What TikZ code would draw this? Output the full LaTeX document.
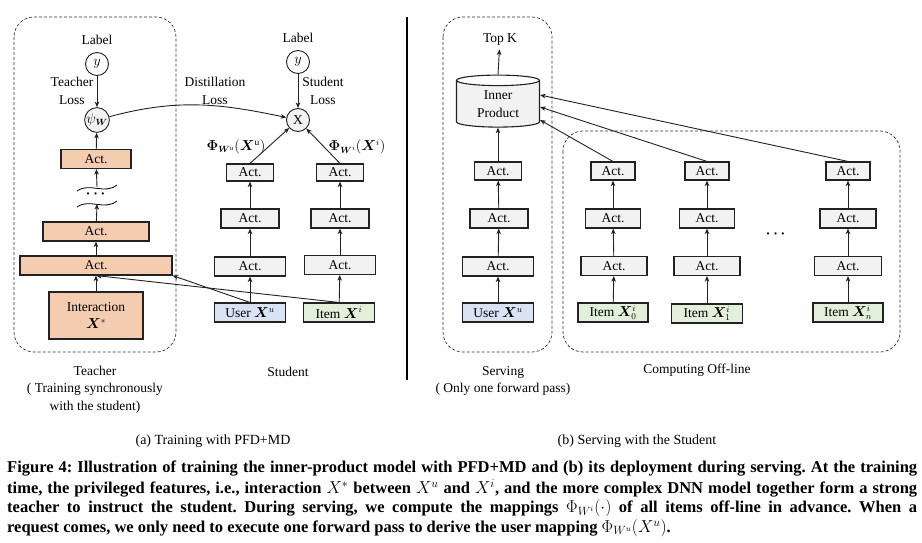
\documentclass[tikz,border=0pt]{standalone}
\usepackage{amsmath,bm}
\usepackage{fontspec}
\setmainfont{Liberation Serif}
\newfontfamily\capfont{Liberation Serif}
\usetikzlibrary{shapes.geometric,arrows.meta}
\definecolor{peach}{HTML}{F4CCB0}
\definecolor{actgray}{HTML}{F2F2F2}
\definecolor{userblue}{HTML}{DAE3F3}
\definecolor{itemgreen}{HTML}{E2EFDA}
\definecolor{edge}{HTML}{222222}
\frenchspacing
\begin{document}
\begin{tikzpicture}[x=1pt,y=-1pt,
    every node/.style={font=\fontsize{13.5}{16}\selectfont},
    layer/.style={draw=edge,line width=1.1pt,fill=actgray,inner sep=0pt,minimum height=18pt},
    tlayer/.style={layer,fill=peach,minimum height=19pt},
    circ/.style={circle,draw=edge,line width=0.9pt,minimum size=23pt,inner sep=0pt},
    arr/.style={-{Stealth[length=5.5pt,width=4.5pt,inset=1.5pt]},line width=0.9pt,draw=edge},
    group/.style={draw=black!80,dash pattern=on 3pt off 2pt,rounded corners=20pt,line width=0.7pt},
    twoline/.style={align=center,font=\fontsize{13.5}{17.5}\selectfont},
    capline/.style={anchor=west,inner sep=0pt,font=\capfont\fontsize{16.5}{20}\bfseries}]
  \useasboundingbox (0,0) rectangle (922,543);
  \fill[white] (0,0) rectangle (922,543);

  % (a) teacher
  \draw[group] (14,17) rectangle (176,352);
  \draw (97,40) node (tlabel) {Label};
  \draw (97,64) node[circ] (ty) {$y$};
  \draw (97,120) node[circ,fill=actgray] (psi) {$\psi_{\bm W}$};
  \draw (96,159) node[tlayer,minimum width=70pt] (tact1) {Act.};
  \draw (96,231.5) node[tlayer,minimum width=106pt] (tact2) {Act.};
  \draw (96,265.5) node[tlayer,minimum width=152pt] (tact3) {Act.};
  \draw (96,315.5) node[tlayer,minimum width=94pt,minimum height=47pt,twoline] (inter) {Interaction\\$\bm{X}^{*}$};
  \draw (97,194) node (tdots) {$\bm{\cdots}$};
  \coordinate (wtop) at (97,187);
  \coordinate (wbot) at (97,204);
  \draw[line width=0.8pt] (77,191) .. controls (90,182) and (104,195) .. (117,185);
  \draw[line width=0.8pt] (77,207) .. controls (90,198) and (104,211) .. (117,201);
  \draw (72,91) node[twoline] (tloss) {Teacher\\Loss};
  \draw (95,389.5) node[twoline] (tname) {Teacher\\( Training synchronously\\with the student)};

  % (a) student
  \draw (298,38) node (slabel) {Label};
  \draw (298,62) node[circ] (sy) {$y$};
  \draw (298,120) node[circ,fill=actgray] (sx) {X};
  \draw (250,172.5) node[layer,minimum width=47pt,minimum height=17pt] (su1) {Act.};
  \draw (250,218.5) node[layer,minimum width=58pt,minimum height=19pt] (su2) {Act.};
  \draw (250,266.5) node[layer,minimum width=71pt,minimum height=19pt] (su3) {Act.};
  \draw (250,312.5) node[layer,fill=userblue,minimum width=71pt,minimum height=19pt] (user) {User $\bm{X}^{u}$};
  \draw (340,172.5) node[layer,minimum width=47pt,minimum height=17pt] (si1) {Act.};
  \draw (340,218.5) node[layer,minimum width=58pt,minimum height=19pt] (si2) {Act.};
  \draw (340,265) node[layer,minimum width=71pt,minimum height=19pt] (si3) {Act.};
  \draw (339,312.5) node[layer,fill=itemgreen,minimum width=71pt,minimum height=19pt] (item) {Item $\bm{X}^{i}$};
  \draw (236,147) node (phiu) {$\bm{\Phi}_{\bm{W}^{\mathrm{u}}}(\bm{X}^{\mathrm{u}})$};
  \draw (357,147) node (phii) {$\bm{\Phi}_{\bm{W}^{i}}(\bm{X}^{i})$};
  \draw (215,91) node[twoline] (dloss) {Distillation\\Loss};
  \draw (323,91) node[twoline] (sloss) {Student\\Loss};
  \draw (288,372) node (sname) {Student};

  \draw[arr] (ty) -- (psi);
  \draw[arr] (tact1) -- (psi);
  \draw[arr] (wtop) -- (tact1);
  \draw[arr] (tact2) -- (wbot);
  \draw[arr] (tact3) -- (tact2);
  \draw[arr] (inter) -- (tact3);
  \draw[arr] (user.north) -- (tact3.south east);
  \draw[arr] (item.north) -- (tact3.south);
  \draw[arr] (psi) to[out=15,in=168] (sx);
  \draw[arr] (sy) -- (sx);
  \draw[arr] (user) -- (su3);
  \draw[arr] (su3) -- (su2);
  \draw[arr] (su2) -- (su1);
  \draw[arr] (su1.north) -- (sx);
  \draw[arr] (item) -- (si3);
  \draw[arr] (si3) -- (si2);
  \draw[arr] (si2) -- (si1);
  \draw[arr] (si1.north) -- (sx);

  \draw[line width=1.2pt] (407,17) -- (407,380);

  % (b) serving
  \draw[group] (443,17) rectangle (552,352);
  \draw[group] (563,131) rectangle (900,352);
  \draw (500,40) node (topk) {Top K};
  \draw (498,104) node[cylinder,shape border rotate=90,aspect=0.25,draw=edge,line width=1.1pt,
    cylinder uses custom fill,cylinder body fill=actgray,cylinder end fill=white,
    minimum width=83pt,minimum height=52pt,inner sep=0pt,twoline] (cyl) {Inner\\Product};
  \draw (498,171) node[layer,minimum width=47pt] (sv1) {Act.};
  \draw (499,218.5) node[layer,minimum width=58pt,minimum height=19pt] (sv2) {Act.};
  \draw (498,266.5) node[layer,minimum width=71pt,minimum height=19pt] (sv3) {Act.};
  \draw (498,312.5) node[layer,fill=userblue,minimum width=71pt,minimum height=19pt] (suser) {User $\bm{X}^{u}$};
  \draw (503,381) node[twoline] (svname) {Serving\\( Only one forward pass)};

  \draw (613,171) node[layer,minimum width=44pt] (oa1) {Act.};
  \draw (613,218.5) node[layer,minimum width=55pt,minimum height=19pt] (oa2) {Act.};
  \draw (614,266) node[layer,minimum width=66pt,minimum height=19pt] (oa3) {Act.};
  \draw (613,312.5) node[layer,fill=itemgreen,minimum width=70pt,minimum height=19pt] (oitem) {Item $\bm{X}^{i}_{0}$};
  \draw (707,171) node[layer,minimum width=44pt] (ob1) {Act.};
  \draw (707,218.5) node[layer,minimum width=55pt,minimum height=19pt] (ob2) {Act.};
  \draw (707,266) node[layer,minimum width=66pt,minimum height=19pt] (ob3) {Act.};
  \draw (707,313.5) node[layer,fill=itemgreen,minimum width=71pt,minimum height=19pt] (obitem) {Item $\bm{X}^{i}_{1}$};
  \draw (848,171) node[layer,minimum width=44pt] (on1) {Act.};
  \draw (848,218.5) node[layer,minimum width=56pt,minimum height=19pt] (on2) {Act.};
  \draw (848,266) node[layer,minimum width=67pt,minimum height=19pt] (on3) {Act.};
  \draw (848,312.5) node[layer,fill=itemgreen,minimum width=70pt,minimum height=19pt] (onitem) {Item $\bm{X}^{i}_{n}$};
  \draw (777,234) node (odots) {$\bm{\cdots}$};
  \draw (697,370) node (oname) {Computing Off-line};

  \draw[arr] (cyl.north) -- (topk);
  \draw[arr] (sv1) -- (cyl);
  \draw[arr] (sv2) -- (sv1);
  \draw[arr] (sv3) -- (sv2);
  \draw[arr] (suser) -- (sv3);
  \draw[arr] (oitem) -- (oa3);
  \draw[arr] (oa3) -- (oa2);
  \draw[arr] (oa2) -- (oa1);
  \draw[arr] (obitem) -- (ob3);
  \draw[arr] (ob3) -- (ob2);
  \draw[arr] (ob2) -- (ob1);
  \draw[arr] (onitem) -- (on3);
  \draw[arr] (on3) -- (on2);
  \draw[arr] (on2) -- (on1);
  \draw[arr] (oa1.north) -- ([yshift=-16pt]cyl.east);
  \draw[arr] (ob1.north) -- ([yshift=-3pt]cyl.east);
  \draw[arr] (on1.north) -- ([yshift=9pt]cyl.east);

  % captions
  \draw (213,441) node[font=\fontsize{14}{16}\selectfont] (capa) {(a) Training with PFD+MD};
  \draw (637,441) node[font=\fontsize{14}{16}\selectfont] (capb) {(b) Serving with the Student};
  \draw (7,469) node[capline] (cap1) {\makebox[910pt][s]{Figure 4: Illustration of training the inner-product model with PFD+MD and (b) its deployment during serving. At the training}};
  \draw (7,488.5) node[capline] (cap2) {\makebox[910pt][s]{time, the privileged features, i.e., interaction $X^{*}$ between $X^{u}$ and $X^{i}$, and the more complex DNN model together form a strong}};
  \draw (7,508) node[capline] (cap3) {\makebox[910pt][s]{teacher to instruct the student. During serving, we compute the mappings $\Phi_{W^{i}}(\cdot)$ of all items off-line in advance. When a}};
  \draw (7,528) node[capline] (cap4) {request comes, we only need to execute one forward pass to derive the user mapping $\Phi_{W^{u}}(X^{u})$.};
\end{tikzpicture}
\end{document}
